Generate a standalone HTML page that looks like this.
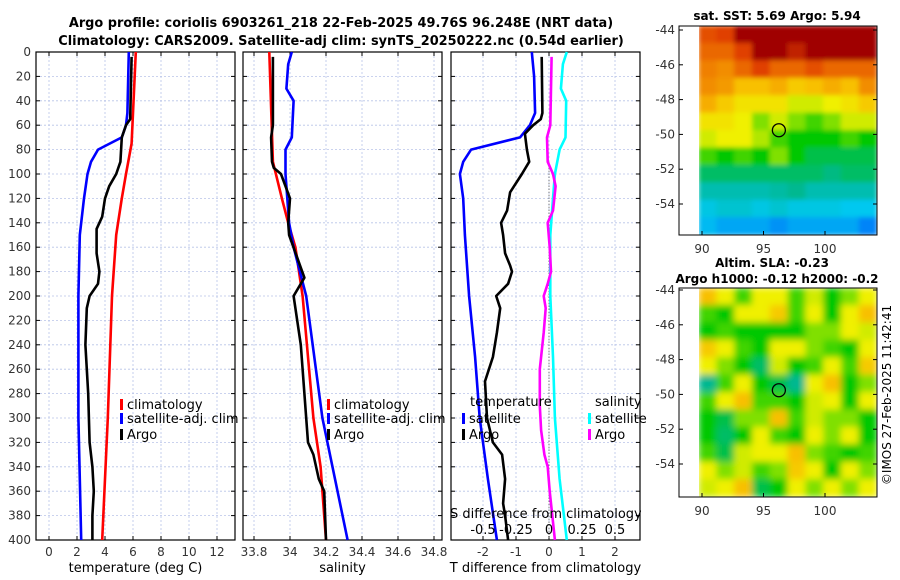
<!DOCTYPE html>
<html><head><meta charset="utf-8"><style>
body{margin:0;background:#fff;}
svg{display:block;font-family:"DejaVu Sans","Liberation Sans",sans-serif;}
</style></head><body>
<svg id="c" width="900" height="580">
<text x="341" y="27" text-anchor="middle" font-size="12.9" font-weight="bold">Argo profile: coriolis 6903261_218 22-Feb-2025 49.76S 96.248E (NRT data)</text>
<text x="341" y="45" text-anchor="middle" font-size="12.9" font-weight="bold">Climatology: CARS2009. Satellite-adj clim: synTS_20250222.nc (0.54d earlier)</text>
<text x="777" y="20" text-anchor="middle" font-size="12" font-weight="bold">sat. SST: 5.69 Argo: 5.94</text>
<text x="772" y="267" text-anchor="middle" font-size="12" font-weight="bold">Altim. SLA: -0.23</text>
<text x="777" y="283" text-anchor="middle" font-size="12" font-weight="bold">Argo h1000: -0.12 h2000: -0.2</text>
<text transform="translate(891,395) rotate(-90)" text-anchor="middle" font-size="12">©IMOS 27-Feb-2025 11:42:41</text>
</svg>
<script>
// ---------- data ----------
const depthTicks=[0,20,40,60,80,100,120,140,160,180,200,220,240,260,280,300,320,340,360,380,400];
const tTicks=[0,2,4,6,8,10,12];
const sTicks=[33.8,34,34.2,34.4,34.6,34.8];
const dTicks=[-2,-1,0,1,2];
const sdTickLabels=["-0.5","-0.25","0","0.25","0.5"];
const sdTickVals=[-0.5,-0.25,0,0.25,0.5];
const climTD=[0,50,75,100,120,150,200,300,400];
const climT=[6.2,6.0,5.9,5.5,5.2,4.8,4.5,4.2,3.8];
const satTD=[0,50,60,70,80,90,100,120,150,200,300,400];
const satT=[5.7,5.6,5.5,5.2,3.5,3.0,2.75,2.5,2.2,2.1,2.1,2.3];
const argoTD=[4,55,60,70,90,100,110,120,135,145,165,180,190,200,210,240,260,280,320,340,360,380,400];
const argoT=[5.9,5.8,5.5,5.2,5.1,4.8,4.3,4.0,3.8,3.4,3.4,3.6,3.5,2.9,2.7,2.6,2.7,2.8,2.9,3.1,3.2,3.1,3.1];
const climSD=[0,90,120,140,160,200,300,340,400];
const climS=[33.885,33.905,33.955,33.99,34.03,34.07,34.13,34.17,34.2];
const satSD=[0,10,30,40,70,80,100,140,160,200,300,400];
const satS=[34.01,33.99,33.98,34.02,34.01,33.975,33.975,33.995,34.02,34.09,34.18,34.32];
const argoSD=[4,60,70,90,95,100,120,140,150,185,200,210,220,240,260,280,300,320,330,350,360,400];
const argoS=[33.905,33.905,33.895,33.9,33.91,33.95,34.0,33.99,33.995,34.08,34.02,34.03,34.04,34.06,34.07,34.08,34.09,34.1,34.13,34.16,34.19,34.2];
const dSatTD=[0,20,50,60,70,80,90,100,120,150,200,250,300,350,400];
const dSatT=[-0.52,-0.45,-0.42,-0.58,-0.88,-2.36,-2.6,-2.7,-2.6,-2.55,-2.42,-2.24,-2.1,-1.85,-1.58];
const dArgoTD=[4,50,55,60,67,80,90,100,115,130,140,150,165,175,180,190,200,210,230,250,270,300,320,330,350,370,380,400];
const dArgoT=[-0.22,-0.2,-0.25,-0.48,-0.73,-0.67,-0.6,-0.82,-1.18,-1.27,-1.45,-1.39,-1.33,-1.18,-1.12,-1.24,-1.6,-1.48,-1.58,-1.7,-1.94,-1.88,-1.7,-1.42,-1.33,-1.39,-1.33,-1.24];
const dSatSD=[0,10,30,40,70,80,100,120,150,200,250,300,350,400];
const dSatS=[0.135,0.105,0.09,0.13,0.125,0.08,0.045,0.03,0.01,0.01,0.03,0.045,0.08,0.135];
const dArgoSD=[4,60,70,90,100,110,130,140,160,180,190,200,210,230,260,290,310,330,340,360,400];
const dArgoS=[0.02,0.01,-0.015,-0.01,0.03,0.05,0.03,-0.01,0.005,0.015,-0.01,-0.04,-0.025,-0.04,-0.07,-0.07,-0.06,-0.035,-0.01,0.005,0.045];
const lonTicks=[90,95,100];
const latTicks=[-44,-46,-48,-50,-52,-54];
const sstGrid=[
[0.88,0.9,1,1,1,1,1,1,1,1],[0.85,0.85,0.9,1,1,0.95,1,1,1,1],
[0.82,0.8,0.85,0.9,0.85,0.85,0.88,0.85,0.85,0.85],[0.8,0.78,0.72,0.72,0.75,0.7,0.72,0.75,0.72,0.8],
[0.75,0.7,0.65,0.65,0.65,0.6,0.6,0.62,0.65,0.7],[0.65,0.65,0.62,0.55,0.6,0.55,0.5,0.55,0.6,0.6],
[0.6,0.62,0.62,0.58,0.5,0.45,0.45,0.45,0.5,0.45],[0.5,0.45,0.5,0.45,0.55,0.45,0.4,0.4,0.4,0.4],
[0.38,0.38,0.38,0.38,0.38,0.38,0.38,0.36,0.38,0.38],[0.3,0.3,0.3,0.3,0.32,0.35,0.3,0.3,0.3,0.3],
[0.22,0.25,0.25,0.22,0.25,0.22,0.22,0.22,0.2,0.2],[0.18,0.15,0.15,0.15,0.12,0.15,0.15,0.15,0.15,0.1]];
const slaGrid=[
[.72,.62,.5,.62,.62,.5,.6,.45,.55,.62],[.5,.45,.62,.62,.7,.5,.62,.45,.62,.72],
[.45,.5,.45,.45,.45,.45,.55,.55,.62,.6],[.7,.62,.5,.45,.62,.62,.55,.5,.45,.62],
[.62,.55,.45,.38,.6,.45,.5,.62,.5,.7],[.35,.5,.62,.45,.4,.35,.62,.72,.45,.55],
[.5,.62,.72,.5,.5,.45,.6,.62,.45,.62],[.45,.4,.55,.55,.72,.5,.6,.55,.55,.45],
[.45,.38,.45,.62,.5,.45,.62,.55,.62,.45],[.5,.4,.6,.62,.62,.72,.55,.5,.45,.5],
[.62,.55,.6,.5,.55,.7,.62,.45,.62,.55],[.6,.62,.72,.4,.45,.62,.55,.62,.55,.62]];
const argoLon=96.25, argoLat=-49.76;

// ---------- drawing ----------
const NS="http://www.w3.org/2000/svg";
const svg=document.getElementById('c');
function mk(tag,attrs,parent){const e=document.createElementNS(NS,tag);for(const k in attrs)e.setAttribute(k,attrs[k]);(parent||svg).appendChild(e);return e;}
const Y0=52,Y1=540;
const yD=d=>Y0+(Y1-Y0)*d/400;
const panels=[
 {x0:36,x1:235,f:v=>49+14*v,ticks:tTicks,lab:v=>String(v),title:"temperature (deg C)",name:"temperature-panel"},
 {x0:243,x1:442,f:v=>254+180*(v-33.8),ticks:sTicks,lab:v=>v===34?"34":v.toFixed(1),title:"salinity",name:"salinity-panel"},
 {x0:451,x1:640,f:v=>549+33*v,ticks:dTicks,lab:v=>String(v),title:"T difference from climatology",name:"difference-panel"}];
panels.forEach((p,i)=>{
 const g=mk('g',{});
 
 
 depthTicks.forEach(d=>{
  mk('line',{x1:p.x0,x2:p.x1,y1:yD(d),y2:yD(d),stroke:'#b8c4e8','stroke-width':0.8,'stroke-dasharray':'2,2'},g);
  mk('line',{x1:p.x0,x2:p.x0+4,y1:yD(d),y2:yD(d),stroke:'#000'},g);
  mk('line',{x1:p.x1,x2:p.x1-4,y1:yD(d),y2:yD(d),stroke:'#000'},g);
 });
 p.ticks.forEach(v=>{
  const x=p.f(v);
  mk('line',{x1:x,x2:x,y1:Y0,y2:Y1,stroke:'#b8c4e8','stroke-width':0.8,'stroke-dasharray':'2,2'},g);
  mk('line',{x1:x,x2:x,y1:Y1,y2:Y1-4,stroke:'#000'},g);
  mk('line',{x1:x,x2:x,y1:Y0,y2:Y0+4,stroke:'#000'},g);
  const t=mk('text',{x:x,y:556,'text-anchor':'middle','font-size':12,fill:'#333'},g);t.textContent=p.lab(v);
  
  
 });
 mk('rect',{x:p.x0,y:Y0,width:p.x1-p.x0,height:Y1-Y0,fill:'none',stroke:'#000','stroke-width':1.2},g);
 const xt=mk('text',{x:(p.x0+p.x1)/2,y:572,'text-anchor':'middle','font-size':13},g);xt.textContent=p.title;
 
 
});
depthTicks.forEach(d=>{const t=mk('text',{x:31,y:yD(d)+4,'text-anchor':'end','font-size':12,fill:'#333'});t.textContent=d;
 
 });
const zl=mk('line',{x1:549,x2:549,y1:yD(90),y2:Y1,stroke:'#555','stroke-dasharray':'1,2'});


function line(ds,vs,f,color,name){
 const pts=ds.map((d,i)=>f(vs[i]).toFixed(1)+','+yD(d).toFixed(1)).join(' ');
 const e=mk('polyline',{points:pts,fill:'none',stroke:color,'stroke-width':2.6,'stroke-linejoin':'round'});
 
 
}
const fT=panels[0].f,fS=panels[1].f,fD=panels[2].f,fSD=v=>549+132*v;
line(climTD,climT,fT,'#f00','temp-climatology-line');
line(satTD,satT,fT,'#00f','temp-satellite-line');
line(argoTD,argoT,fT,'#000','temp-argo-line');
line(climSD,climS,fS,'#f00','sal-climatology-line');
line(satSD,satS,fS,'#00f','sal-satellite-line');
line(argoSD,argoS,fS,'#000','sal-argo-line');
line(dSatTD,dSatT,fD,'#00f','tdiff-satellite-line');
line(dArgoTD,dArgoT,fD,'#000','tdiff-argo-line');
line(dSatSD,dSatS,fSD,'#0ff','sdiff-satellite-line');
line(dArgoSD,dArgoS,fSD,'#f0f','sdiff-argo-line');
function leg(x,y,color,label){
 const g=mk('g',{});
 
 
 if(color)mk('rect',{x:x,y:y-10,width:3,height:11,fill:color},g);
 const t=mk('text',{x:x+7,y:y,'font-size':13},g);t.textContent=label;
}
leg(120,409,'#f00','climatology');leg(120,423,'#00f','satellite-adj. clim');leg(120,439,'#000','Argo');
leg(327,409,'#f00','climatology');leg(327,423,'#00f','satellite-adj. clim');leg(327,439,'#000','Argo');
leg(463,406,null,'temperature');leg(462,423,'#00f','satellite');leg(462,439,'#000','Argo');
leg(588,406,null,'salinity');leg(588,423,'#0ff','satellite');leg(588,439,'#f0f','Argo');
const sdt=mk('text',{x:450,y:518,'font-size':13});sdt.textContent='S difference from climatology';


sdTickVals.forEach((v,i)=>{const t=mk('text',{x:fSD(v),y:534,'text-anchor':'middle','font-size':13});t.textContent=sdTickLabels[i];
 
 });
mk('rect',{x:641,y:505,width:38,height:35,fill:'#fff'});
// maps
const stops=[[0,[0,64,255]],[0.2,[0,200,240]],[0.35,[0,184,144]],[0.45,[0,200,0]],[0.55,[128,224,0]],[0.62,[240,240,0]],[0.72,[248,192,0]],[0.82,[240,128,0]],[0.9,[224,64,0]],[1,[160,0,0]]];
function col(v){for(let i=1;i<stops.length;i++){if(v<=stops[i][0]){const a=stops[i-1],b=stops[i],t=(v-a[0])/(b[0]-a[0]);return 'rgb('+a[1].map((c,k)=>Math.round(c+(b[1][k]-c)*t)).join(',')+')';}}return 'rgb(160,0,0)';}
const defs=mk('defs',{});
const flt=mk('filter',{id:'bl',x:'-5%',y:'-5%',width:'110%',height:'110%'},defs);mk('feGaussianBlur',{stdDeviation:3.5},flt);
const flt2=mk('filter',{id:'bl2',x:'-5%',y:'-5%',width:'110%',height:'110%'},defs);mk('feGaussianBlur',{stdDeviation:2.5},flt2);
[['sst-map',sstGrid,26,235,30,'bl2'],['sla-map',slaGrid,288,497,290,'bl']].forEach(([name,grid,top,bot,lat44,fid])=>{
 const g=mk('g',{});
 
 
 const cp=mk('clipPath',{id:'cp'+name},defs);mk('rect',{x:699,y:top,width:178,height:bot-top},cp);
 const img=mk('g',{'clip-path':'url(#cp'+name+')'},g);
 const inner=mk('g',{filter:'url(#'+fid+')'},img);
 const rh=(bot-top)/grid.length,cw=178/grid[0].length;
 grid.forEach((row,r)=>row.forEach((v,c)=>{
  const cell=mk('rect',{x:699+c*cw-0.5,y:top+r*rh-0.5,width:cw+1,height:rh+1,fill:col(v)},inner);
  
  
 }));
 mk('rect',{x:679,y:top,width:198,height:bot-top,fill:'none',stroke:'#000','stroke-width':1},g);
 const lx=l=>702+(l-90)*12.3, ly=l=>lat44+(-44-l)*17.4;
 lonTicks.forEach(l=>{mk('line',{x1:lx(l),x2:lx(l),y1:bot,y2:bot-4,stroke:'#000'},g);
  const t=mk('text',{x:lx(l),y:bot+18,'text-anchor':'middle','font-size':12,fill:'#333'},g);t.textContent=l;
  
  });
 latTicks.forEach(l=>{mk('line',{x1:679,x2:683,y1:ly(l),y2:ly(l),stroke:'#000'},g);mk('line',{x1:877,x2:873,y1:ly(l),y2:ly(l),stroke:'#000'},g);
  const t=mk('text',{x:675,y:ly(l)+4,'text-anchor':'end','font-size':12,fill:'#333'},g);t.textContent=l;
  
  });
 const m=mk('circle',{cx:lx(argoLon),cy:ly(argoLat),r:6.5,fill:'none',stroke:'#000','stroke-width':1.3},g);
 
 
});
</script>
</body></html>
